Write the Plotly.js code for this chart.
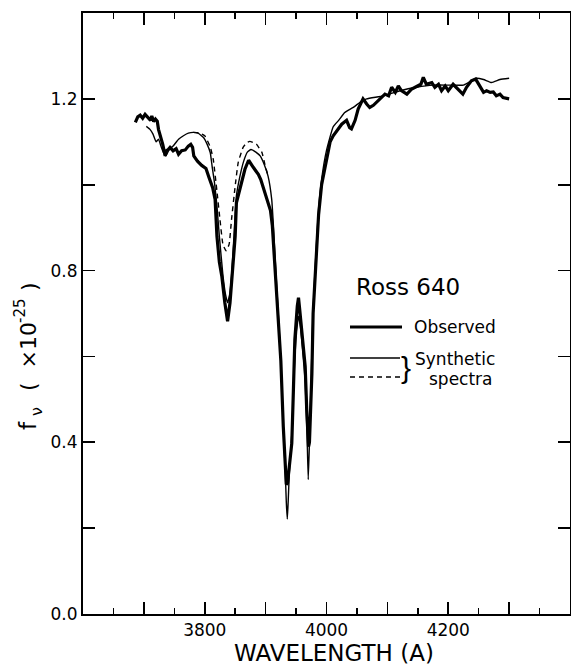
<!DOCTYPE html>
<html>
<head>
<meta charset="utf-8">
<script src="https://cdn.plot.ly/plotly-3.0.1.min.js"></script>
<style>
  html, body { margin: 0; padding: 0; background: #fff; }
  #chart { width: 571px; height: 665px; }
</style>
</head>
<body>
<div id="chart"></div>
<script>
// Observed spectrum (thick line)
const obsWave = [3686,3690,3694,3698,3702,3707,3711,3713,3716,3719,3722,3724,3727,3731,3735,3737,3740,3743,3748,3753,3757,3762,3768,3773,3777,3780,3782,3788,3795,3802,3807,3813,3817,3820,3824,3828,3833,3837.5,3841.5,3846,3850,3852,3858,3866,3872,3876,3880,3884,3888,3892,3896,3900,3904,3908,3911,3914,3918,3921,3925,3929,3932,3934,3936,3939,3943,3945.5,3948,3952,3954,3956,3961,3965,3967.5,3969.5,3970.5,3972,3974,3976,3978,3983,3987,3992,4000,4006,4011,4017,4025,4033,4038,4041,4047,4052,4060,4066,4071,4077,4088,4096,4102,4107,4113,4118,4123,4132,4140,4148,4155,4159,4164,4173,4178,4184,4189,4195,4200,4208,4216,4224,4230,4238,4245,4252,4258,4263,4269,4274,4279,4285,4290,4300];
const obsFlux = [1.145,1.158,1.162,1.155,1.164,1.157,1.150,1.160,1.147,1.153,1.148,1.129,1.114,1.094,1.067,1.079,1.082,1.087,1.079,1.084,1.071,1.079,1.081,1.090,1.094,1.087,1.067,1.055,1.045,1.038,1.017,0.993,0.966,0.880,0.820,0.787,0.725,0.682,0.725,0.803,0.880,0.958,0.989,1.036,1.057,1.050,1.040,1.032,1.024,1.012,0.995,0.978,0.962,0.940,0.905,0.834,0.760,0.694,0.590,0.437,0.359,0.302,0.305,0.340,0.398,0.515,0.640,0.717,0.737,0.709,0.639,0.577,0.476,0.400,0.390,0.400,0.476,0.560,0.700,0.840,0.930,1.000,1.060,1.100,1.114,1.125,1.141,1.150,1.133,1.130,1.150,1.176,1.200,1.188,1.180,1.185,1.200,1.211,1.207,1.227,1.215,1.230,1.219,1.211,1.223,1.230,1.234,1.250,1.234,1.238,1.227,1.234,1.219,1.230,1.219,1.234,1.223,1.211,1.227,1.242,1.246,1.230,1.215,1.219,1.215,1.216,1.207,1.211,1.203,1.200];

// Synthetic spectrum, model 1 (thin solid line)
const synWave = [3704,3710,3715,3720,3724,3728,3732,3736,3742,3748,3757,3765,3773,3781,3789,3798,3804,3809,3812,3816,3820,3824,3830,3834,3837.5,3841,3844,3848,3852,3858,3864,3870,3876,3884,3891,3898,3904,3910,3913,3916,3921,3925,3929,3932,3934,3935.6,3937,3939,3943,3946,3948,3951,3954,3957,3961,3965,3968,3970,3972,3975,3978,3983,3987,3992,4000,4011,4020,4030,4044,4058,4066,4093,4121,4148,4175,4203,4225,4238,4246,4258,4271,4285,4300];
const synFlux = [1.136,1.129,1.118,1.100,1.106,1.090,1.075,1.067,1.083,1.090,1.106,1.114,1.120,1.122,1.120,1.110,1.094,1.075,1.044,1.005,0.950,0.880,0.787,0.745,0.725,0.745,0.787,0.880,0.974,1.021,1.055,1.076,1.082,1.076,1.067,1.046,1.020,0.966,0.900,0.820,0.694,0.590,0.437,0.340,0.260,0.221,0.260,0.330,0.420,0.530,0.600,0.660,0.694,0.670,0.610,0.540,0.420,0.313,0.400,0.560,0.709,0.850,0.945,1.013,1.080,1.135,1.150,1.168,1.180,1.195,1.200,1.207,1.219,1.227,1.232,1.232,1.232,1.242,1.248,1.245,1.238,1.245,1.248];

// Synthetic spectrum, model 2 (dashed line; coincides with model 1 elsewhere)
const synDashWave = [3781,3790,3800,3809,3814,3820,3825,3830,3835,3840,3844,3850,3855,3863,3869,3874,3880,3885,3894,3899,3904];
const synDashFlux = [1.122,1.121,1.114,1.088,1.059,0.985,0.919,0.860,0.846,0.861,0.919,0.997,1.052,1.087,1.098,1.101,1.098,1.094,1.075,1.046,1.020];

// Axis ticks
const xLabelVals = [3800,4000,4200];
const xLabelText = ['3800','4000','4200'];
const xLongTickVals = [3700,3900,4100,4300];
const yLabelVals = [0,0.4,0.8,1.2];
const yLabelText = ['0.0','0.4','0.8','1.2'];

// Texts
const legendTitle = 'Ross 640';
const labelObserved = 'Observed';
const labelSynthetic1 = 'Synthetic';
const labelSynthetic2 = 'spectra';
const xTitle = 'WAVELENGTH (A)';
const yTitleParts = ['f', 'ν', '(  ×10', '-25', ')'];

const FONT = 'DejaVu Sans, Liberation Sans, sans-serif';
const W = 571, H = 665, ML = 83, MR = 1, MT = 13, MB = 51;
const PW = W - ML - MR, PH = H - MT - MB;
const px = (x) => (x - ML) / PW;
const py = (y) => (H - MB - y) / PH;

const traces = [
  { x: synWave, y: synFlux, mode: 'lines', line: { color: '#000', width: 1.4, shape: 'spline', smoothing: 0.4 }, hoverinfo: 'skip' },
  { x: synDashWave, y: synDashFlux, xaxis: 'x2', mode: 'lines', line: { color: '#000', width: 1.4, dash: '5px,4px', shape: 'spline', smoothing: 0.4 }, hoverinfo: 'skip' },
  { x: obsWave, y: obsFlux, mode: 'lines', line: { color: '#000', width: 3.2 }, hoverinfo: 'skip' }
];

const rot = (text, x, y, size) => ({ text: text, xref: 'paper', yref: 'paper', x: px(x), y: py(y), xanchor: 'center', yanchor: 'middle', textangle: -90, showarrow: false, font: { family: FONT, size: size, color: '#000' } });

const layout = {
  width: W, height: H,
  margin: { l: ML, r: MR, t: MT, b: MB },
  paper_bgcolor: '#fff', plot_bgcolor: '#fff',
  showlegend: false,
  font: { family: FONT, color: '#000', size: 17 },
  xaxis: {
    range: [3600, 4400], showgrid: false, zeroline: false,
    showline: true, linecolor: '#000', linewidth: 2, mirror: 'ticks',
    ticks: 'inside', ticklen: 12, tickwidth: 1.6, tickcolor: '#000',
    tickmode: 'array', tickvals: xLabelVals, ticktext: xLabelText,
    minor: { dtick: 50, tick0: 3600, ticks: 'inside', ticklen: 6, tickwidth: 1.6, tickcolor: '#000', showgrid: false },
    tickfont: { family: FONT, size: 17, color: '#000' }
  },
  xaxis2: {
    overlaying: 'x', side: 'bottom', range: [3600, 4400], showgrid: false, zeroline: false,
    showline: false, mirror: 'ticks', ticks: 'inside', ticklen: 12, tickwidth: 1.6, tickcolor: '#000',
    tickmode: 'array', tickvals: xLongTickVals, showticklabels: false
  },
  yaxis: {
    range: [0, 1.4], showgrid: false, zeroline: false,
    showline: true, linecolor: '#000', linewidth: 2, mirror: 'ticks',
    ticks: 'inside', ticklen: 12, tickwidth: 1.6, tickcolor: '#000',
    tickmode: 'array', tickvals: yLabelVals, ticktext: yLabelText,
    minor: { dtick: 0.2, tick0: 0, ticks: 'inside', ticklen: 12, tickwidth: 1.6, tickcolor: '#000', showgrid: false },
    tickfont: { family: FONT, size: 17, color: '#000' }
  },
  shapes: [
    { type: 'line', xref: 'paper', yref: 'paper', x0: px(350), x1: px(402), y0: py(327), y1: py(327), line: { color: '#000', width: 3.2 } },
    { type: 'line', xref: 'paper', yref: 'paper', x0: px(350), x1: px(400), y0: py(358), y1: py(358), line: { color: '#000', width: 1.4 } },
    { type: 'line', xref: 'paper', yref: 'paper', x0: px(350), x1: px(400), y0: py(377), y1: py(377), line: { color: '#000', width: 1.4, dash: '5px,4px' } }
  ],
  annotations: [
    { text: legendTitle, xref: 'paper', yref: 'paper', x: px(354), y: py(287), xanchor: 'left', yanchor: 'middle', showarrow: false, font: { family: FONT, size: 23, color: '#000' } },
    { text: labelObserved, xref: 'paper', yref: 'paper', x: px(412), y: py(327), xanchor: 'left', yanchor: 'middle', showarrow: false, font: { family: FONT, size: 17, color: '#000' } },
    { text: '}', xref: 'paper', yref: 'paper', x: px(406), y: py(368), xanchor: 'center', yanchor: 'middle', showarrow: false, font: { family: 'Liberation Sans, sans-serif', size: 30, color: '#000' } },
    { text: labelSynthetic1, xref: 'paper', yref: 'paper', x: px(413), y: py(359), xanchor: 'left', yanchor: 'middle', showarrow: false, font: { family: FONT, size: 17, color: '#000' } },
    { text: labelSynthetic2, xref: 'paper', yref: 'paper', x: px(427), y: py(379), xanchor: 'left', yanchor: 'middle', showarrow: false, font: { family: FONT, size: 17, color: '#000' } },
    { text: xTitle, xref: 'paper', yref: 'paper', x: px(334), y: py(653), xanchor: 'center', yanchor: 'middle', showarrow: false, font: { family: FONT, size: 23, color: '#000' } },
    rot(yTitleParts[0], 28, 426, 23),
    rot(yTitleParts[1], 36, 412, 16),
    rot(yTitleParts[2], 29, 357, 22),
    rot(yTitleParts[3], 20, 311, 15),
    rot(yTitleParts[4], 29, 287, 22)
  ]
};

Plotly.newPlot('chart', traces, layout, { staticPlot: true, displayModeBar: false });
</script>
</body>
</html>
